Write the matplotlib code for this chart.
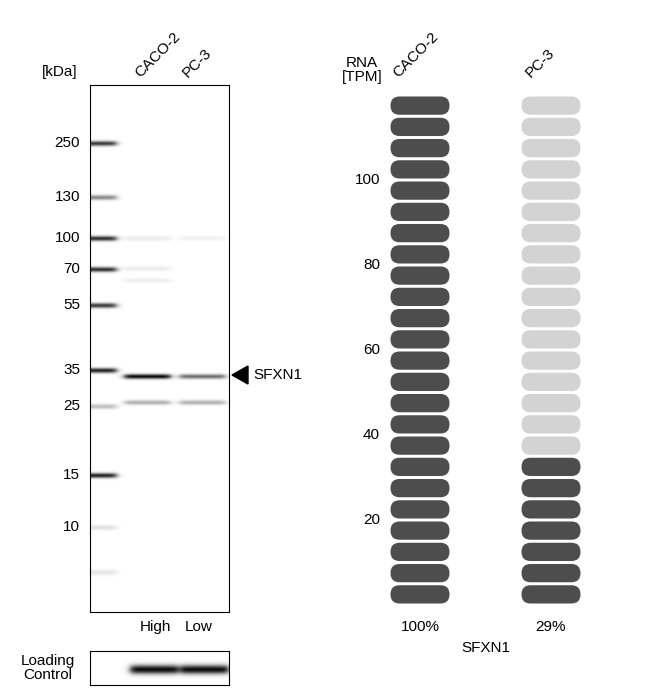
import numpy as np
import matplotlib
matplotlib.use("Agg")
import matplotlib.pyplot as plt
from matplotlib.patches import FancyBboxPatch, Polygon

plt.rcParams['font.family'] = ['Liberation Sans', 'DejaVu Sans']

W, H = 646, 689
lanes = ["CACO-2", "PC-3"]
marker_kda = [250, 130, 100, 70, 55, 35, 25, 15, 10]
marker_y = [143, 197, 238, 269, 305, 370, 406, 475, 527]   # y pixel in figure
ladder_int = [0.75, 0.45, 0.8, 0.8, 0.75, 0.85, 0.25, 0.85, 0.12]
# sample bands: (y pixel, intensity CACO-2, intensity PC-3)
sample_bands = [(376, 0.95, 0.55), (402, 0.3, 0.3), (238, 0.08, 0.06), (268, 0.08, 0.0), (280, 0.07, 0.0)]
levels = ["High", "Low"]
loading_int = [0.95, 0.95]

rna_tpm = [120, 35]
rna_pct = ["100%", "29%"]
tpm_per_bar = 5
n_bars = 24
gene = "SFXN1"

fig = plt.figure(figsize=(W/100, H/100), dpi=100)

def ax_px(x0, y0, x1, y1):
    return fig.add_axes([x0/W, 1-y1/H, (x1-x0)/W, (y1-y0)/H])

# ---- blot
bx0, by0, bx1, by1 = 90, 85, 229, 612
ax = ax_px(bx0, by0, bx1, by1)
yy, xx = np.mgrid[by0:by1, bx0:bx1].astype(float)
img = np.zeros_like(xx)
lane_cx = [147, 202]
lane_hw = 23
for y, it in zip(marker_y, ladder_int):
    img += it*np.exp(-((yy-y)/2.5)**2) * (1/(1+np.exp((xx-116)/2.0)))
img += 0.1*np.exp(-((yy-572)/3)**2) * (1/(1+np.exp((xx-116)/2.0)))
for y, a, b in sample_bands:
    for cx, it in zip(lane_cx, (a, b)):
        prof = 1/(1+np.exp((np.abs(xx-cx)-lane_hw)/2.0))
        img += it*np.exp(-((yy-y)/2.4)**2)*prof
img = np.clip(img, 0, 1)
ax.imshow(1-img, cmap='gray', vmin=0, vmax=1, extent=(bx0, bx1, by1, by0), aspect='auto')
ax.set_xticks([]); ax.set_yticks([])
for s in ax.spines.values():
    s.set_linewidth(0.8)
for k, y in zip(marker_kda, marker_y):
    fig.text(80/W, 1-y/H, str(k), ha='right', va='center', fontsize=11)
fig.text(60/W, 1-72/H, "[kDa]", ha='center', va='center', fontsize=11)
for cx, lab in zip([142, 190], lanes):
    fig.text(cx/W, 1-80/H, lab, ha='left', va='bottom', rotation=45, fontsize=11,
             rotation_mode='anchor')
for cx, lab in zip([155, 199], levels):
    fig.text(cx/W, 1-627/H, lab, ha='center', va='center', fontsize=11)
fig.patches.append(Polygon([[232/W, 1-375/H], [248/W, 1-366/H], [248/W, 1-384/H]],
                           closed=True, color='black', transform=fig.transFigure))
fig.text(253/W, 1-375/H, gene, ha='left', va='center', fontsize=11)

# ---- loading control
lx0, ly0, lx1, ly1 = 90, 651, 229, 685
axl = ax_px(lx0, ly0, lx1, ly1)
yy, xx = np.mgrid[ly0:ly1, lx0:lx1].astype(float)
img = np.zeros_like(xx)
for cx, it in zip([154, 204], loading_int):
    prof = 1/(1+np.exp((np.abs(xx-cx)-24)/2.0))
    img += it*np.exp(-((yy-669)/4.5)**2)*prof
axl.imshow(1-np.clip(img, 0, 1), cmap='gray', vmin=0, vmax=1, extent=(lx0, lx1, ly1, ly0), aspect='auto')
axl.set_xticks([]); axl.set_yticks([])
fig.text(48/W, 1-668/H, "Loading\nControl", ha='center', va='center', fontsize=11, linespacing=0.95)

# ---- RNA
ra = ax_px(330, 85, 646, 612)
ra.set_xlim(330, 646)
ppt = (605-95)/(n_bars*tpm_per_bar)
ra.set_ylim(-(612-605)/ppt, (605-85)/ppt)
ra.axis('off')
cols_x = [420, 551]
bw = 59
for cx, tpm in zip(cols_x, rna_tpm):
    ndark = int(round(tpm/tpm_per_bar))
    for i in range(n_bars):
        c = '#4d4d4d' if i < ndark else '#d3d3d3'
        ra.add_patch(FancyBboxPatch((cx-bw/2, i*tpm_per_bar+0.35), bw, tpm_per_bar-0.7,
                                    boxstyle="round,pad=0,rounding_size=9", mutation_aspect=1/ppt,
                                    fc=c, ec='none'))
for v in [20, 40, 60, 80, 100]:
    ra.text(380, v, str(v), ha='right', va='center', fontsize=11)
fig.text(362/W, 1-70/H, "RNA\n[TPM]", ha='center', va='center', fontsize=11, linespacing=1.0)
for cx, lab in zip([400, 533], lanes):
    fig.text(cx/W, 1-80/H, lab, ha='left', va='bottom', rotation=45, fontsize=11,
             rotation_mode='anchor')
for cx, p in zip(cols_x, rna_pct):
    fig.text(cx/W, 1-627/H, p, ha='center', va='center', fontsize=11)
fig.text(486/W, 1-648/H, gene, ha='center', va='center', fontsize=11)

fig.savefig("out.png", dpi=100)
